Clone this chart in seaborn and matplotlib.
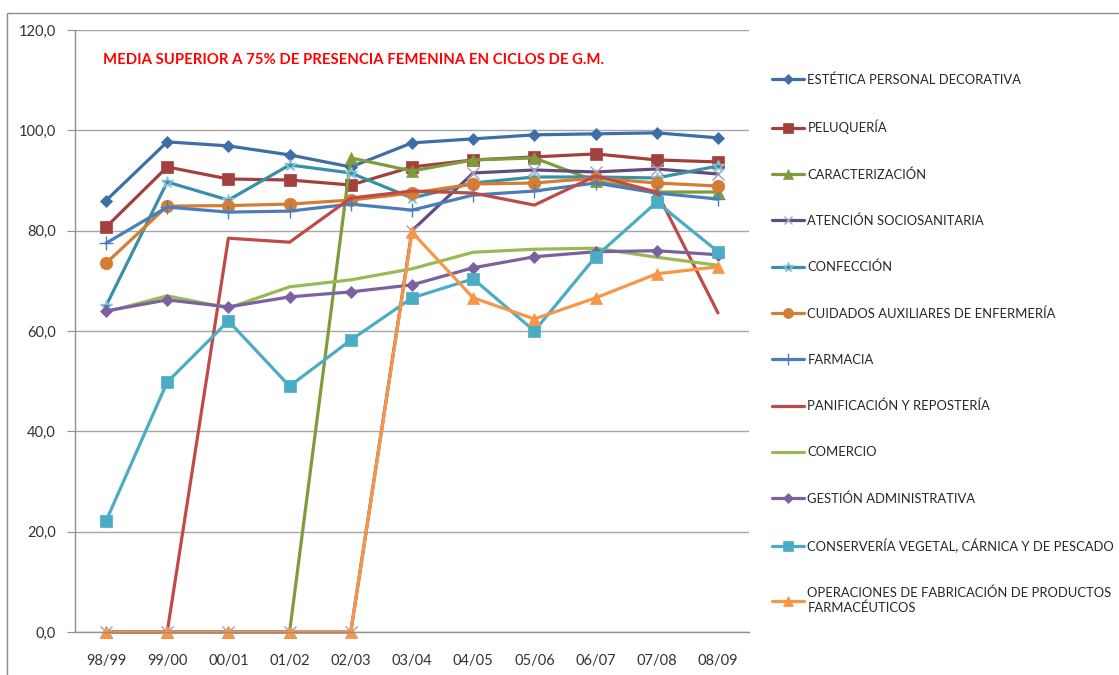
import numpy as np
import pandas as pd
import matplotlib
matplotlib.use("Agg")
import matplotlib.pyplot as plt
import seaborn as sns
from matplotlib.patches import Rectangle

years = ["98/99", "99/00", "00/01", "01/02", "02/03", "03/04", "04/05", "05/06", "06/07", "07/08", "08/09"]

estetica = [86.0, 97.7, 96.9, 95.1, 92.7, 97.5, 98.3, 99.1, 99.3, 99.5, 98.5]
peluqueria = [80.7, 92.7, 90.3, 90.1, 89.1, 92.7, 94.1, 94.7, 95.3, 94.1, 93.7]
caracterizacion = [0.0, 0.0, 0.0, 0.0, 94.5, 91.9, 94.1, 94.5, 89.9, 87.7, 87.7]
atencion = [0.0, 0.0, 0.0, 0.0, 0.0, 80.0, 91.5, 92.1, 91.7, 92.3, 91.3]
confeccion = [65.0, 89.7, 86.1, 93.1, 91.5, 86.5, 89.5, 90.7, 90.7, 90.5, 92.9]
cuidados = [73.5, 84.9, 85.0, 85.3, 86.1, 87.5, 89.3, 89.5, 90.5, 89.5, 88.9]
farmacia = [77.5, 84.7, 83.7, 83.9, 85.3, 84.1, 87.1, 87.9, 89.5, 87.5, 86.3]
panificacion = [0.0, 0.0, 78.5, 77.7, 86.5, 87.9, 87.5, 85.1, 90.9, 87.7, 63.6]
comercio = [63.8, 67.0, 64.6, 68.8, 70.2, 72.4, 75.7, 76.3, 76.5, 74.7, 73.1]
gestion = [64.0, 66.2, 64.8, 66.8, 67.8, 69.2, 72.6, 74.8, 75.8, 76.0, 75.2]
conserveria = [22.1, 49.8, 62.0, 49.0, 58.2, 66.6, 70.4, 60.0, 74.8, 85.7, 75.8]
operaciones = [0.0, 0.0, 0.0, 0.0, 0.0, 79.7, 66.6, 62.4, 66.6, 71.4, 72.8]

names = ["ESTÉTICA PERSONAL DECORATIVA", "PELUQUERÍA", "CARACTERIZACIÓN",
         "ATENCIÓN SOCIOSANITARIA", "CONFECCIÓN", "CUIDADOS AUXILIARES DE ENFERMERÍA",
         "FARMACIA", "PANIFICACIÓN Y REPOSTERÍA", "COMERCIO", "GESTIÓN ADMINISTRATIVA",
         "CONSERVERÍA VEGETAL, CÁRNICA Y DE PESCADO",
         "OPERACIONES DE FABRICACIÓN DE PRODUCTOS\nFARMACÉUTICOS"]
series = [estetica, peluqueria, caracterizacion, atencion, confeccion, cuidados,
          farmacia, panificacion, comercio, gestion, conserveria, operaciones]

colors = ["#3F6DA6", "#A3403D", "#7E9C3C", "#624B7D", "#3690A8", "#D47D33",
          "#4A7EBB", "#BE4B48", "#98B954", "#7D60A0", "#4BACC6", "#F79646"]
markers = ["D", "s", "^", "x", "*", "o", "+", "", "", "D", "s", "^"]
msizes = [6, 9, 9, 8, 9, 9, 10, 0, 0, 6, 9, 9]
medge = [None, None, None, "#A39BC0", "#8FC8DA", None, "#4A7EBB", None, None, None, None, None]

sns.set_style("white")
plt.rcParams["font.family"] = ["Lato", "DejaVu Sans"]

fig = plt.figure(figsize=(11.19, 6.75), dpi=100)
ax = fig.add_axes([75.4 / 1119, 1 - 632 / 675, (748.6 - 75.4) / 1119, (632 - 30) / 675])

x = np.arange(len(years))
for name, vals, c, m, ms, me in zip(names, series, colors, markers, msizes, medge):
    df = pd.DataFrame({"x": x, "y": vals})
    kw = dict(marker=m, markersize=ms, markeredgecolor=me if me else c,
              markerfacecolor=c)
    if m in ("x", "+", "*"):
        kw["markeredgewidth"] = 1.0
    else:
        kw["markeredgewidth"] = 0.5
    sns.lineplot(data=df, x="x", y="y", ax=ax, color=c, linewidth=2.3,
                 label=name, clip_on=False, **kw)

ax.set_xlim(-0.5, 10.5)
ax.set_ylim(0, 120)
ax.set_yticks(np.arange(0, 121, 20))
ax.set_yticklabels([f"{v:.1f}".replace(".", ",") for v in np.arange(0, 121, 20)])
ax.set_xticks(x)
ax.set_xticklabels(years)
ax.set_xticks(np.arange(-0.5, 11, 1), minor=True)
ax.tick_params(axis="x", which="major", length=0, pad=16, labelsize=10.5, colors="#333333")
ax.tick_params(axis="x", which="minor", length=6, direction="out", color="#909090")
ax.tick_params(axis="y", length=6, direction="out", color="#909090", pad=8,
               labelsize=10.5, labelcolor="#333333", left=True)
ax.set_xlabel("")
ax.set_ylabel("")
ax.grid(axis="y", color="#A6A6A6", linewidth=1)
ax.set_axisbelow(True)
for s in ["top", "right"]:
    ax.spines[s].set_visible(False)
for s in ["left", "bottom"]:
    ax.spines[s].set_color("#909090")
    ax.spines[s].set_linewidth(1)

fig.text(103 / 1119, 1 - 60 / 675, "MEDIA SUPERIOR A 75% DE PRESENCIA FEMENINA EN CICLOS DE G.M.",
         color="#FF0000", fontsize=10.7, fontweight="bold", ha="left", va="center")

handles, labels = ax.get_legend_handles_labels()
ax.get_legend().remove()
fig.legend(handles, labels, loc="upper left", bbox_to_anchor=(767 / 1119, 1 - 68 / 675),
           frameon=False, fontsize=9.4, labelspacing=2.6, handlelength=2.4,
           handletextpad=0.3, borderaxespad=0, markerscale=0.8)

fig.patches.append(Rectangle((7 / 1119, -0.1), 1.2, 1 - 13 / 675 + 0.1,
                             transform=fig.transFigure, fill=False,
                             edgecolor="#8C8C8C", linewidth=1))

fig.savefig("out.png", dpi=100)
